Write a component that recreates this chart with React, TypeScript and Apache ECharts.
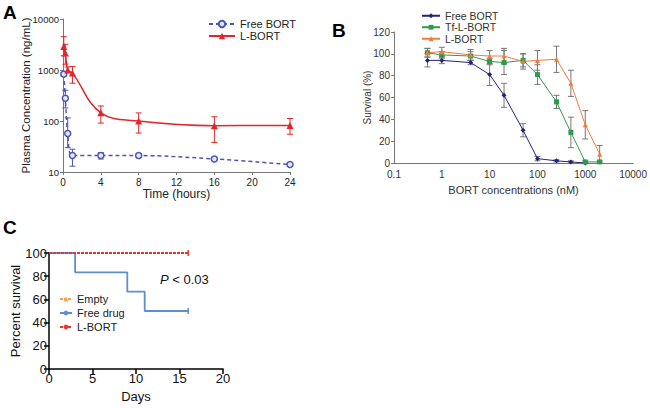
import React, { useEffect, useRef } from "react";
import * as echarts from "echarts";

// ---------- Panel A data ----------
const timesA = [0.083, 0.25, 0.5, 1, 4, 8, 16, 24];
const freeA = [830, 280, 57, 21, 21, 21, 18, 14];
const freeALo = [760, 180, 30, 13, 18, 19, 17, 13];
const freeAHi = [900, 400, 115, 28, 24, 23, 19.5, 15];
const lA = [2900, 2150, 1000, 870, 145, 100, 81, 82];
const lALo = [1900, 1300, 900, 550, 91, 58, 38, 55];
const lAHi = [4500, 3200, 1150, 1170, 197, 144, 121, 112];

// ---------- Panel B data ----------
const concB = [0.5, 1, 4, 10, 20, 50, 100, 250, 500, 1000, 2000];
const freeB = [94, 94, 92, 81, 62, 30, 4, 2, 1, 0];
const freeBErr = [6, 3, 2, 10, 11, 6, 2, 1, 1, 0];
const tfB = [101, 99, 98, 93, 92, 94, 81, 56, 28, 1, 1];
const tfBErr = [4, 3, 4, 3, 11, 6, 9, 6, 14, 1, 1];
const lB = [101, 102, 99, 98, 98, 93, 94, 95, 73, 35, 8];
const lBErr = [4, 4, 5, 5, 7, 7, 9, 12, 12, 13, 8];

// ---------- Panel C data ----------
const daysFree = [0, 3, 9, 11, 16];
const survFree = [100, 83.3, 66.7, 50, 50];
const daysL = [0, 16];
const survL = [100, 100];
const daysEmpty = [0, 16];
const survEmpty = [100, 100];

const FONT = "'Liberation Sans', Arial, sans-serif";

function pairs(xs: number[], ys: number[]) {
  return ys.map((y, i) => [xs[i], y]);
}

function errRender(color: string, cap: number) {
  return (params: any, api: any) => {
    const x = api.value(0);
    const lo = api.value(1);
    const hi = api.value(2);
    const p1 = api.coord([x, lo]);
    const p2 = api.coord([x, hi]);
    const st = { stroke: color, lineWidth: 1 };
    return {
      type: "group",
      children: [
        { type: "line", shape: { x1: p1[0], y1: p1[1], x2: p2[0], y2: p2[1] }, style: st },
        { type: "line", shape: { x1: p1[0] - cap, y1: p1[1], x2: p1[0] + cap, y2: p1[1] }, style: st },
        { type: "line", shape: { x1: p2[0] - cap, y1: p2[1], x2: p2[0] + cap, y2: p2[1] }, style: st },
      ],
    };
  };
}

const plain = (v: number) => String(v);

export default function App() {
  const ref = useRef<HTMLDivElement>(null);
  useEffect(() => {
    if (!ref.current) return;
    const chart = echarts.init(ref.current, null, { renderer: "svg" });

    const blueA = "#4b55b3";
    const redA = "#e2262b";
    const navyB = "#23237a";
    const greenB = "#2f9a4c";
    const orangeB = "#f07c3c";
    const blueC = "#5b8fcf";
    const redC = "#e8362f";
    const orangeC = "#f2a24a";

    const thinAxis = (color: string) => ({
      axisLine: { show: true, lineStyle: { color, width: 1 } },
      axisTick: { show: true, inside: false, length: 3, lineStyle: { color, width: 1 } },
      splitLine: { show: false },
    });

    const nameStyle = (size: number, color: string) => ({
      fontSize: size, color, fontFamily: FONT, fontWeight: "normal",
    });

    const option: any = {
      animation: false,
      textStyle: { fontFamily: FONT },
      grid: [
        { left: 63, top: 19, width: 227, height: 153 },
        { left: 394, top: 32, width: 243, height: 131 },
        { left: 49, top: 253, width: 174, height: 116 },
      ],
      xAxis: [
        {
          gridIndex: 0, type: "value", min: 0, max: 24, interval: 4,
          ...thinAxis("#777"),
          axisLabel: { fontSize: 10, color: "#222", margin: 5, fontFamily: FONT, formatter: plain },
          name: "Time (hours)", nameLocation: "middle", nameGap: 16, nameMoveOverlap: false,
          nameTextStyle: nameStyle(12, "#222"),
        },
        {
          gridIndex: 1, type: "log", logBase: 10, min: 0.1, max: 10000,
          axisLine: { show: true, lineStyle: { color: "#777", width: 1 } },
          axisTick: { show: false },
          splitLine: { show: false },
          minorTick: { show: false },
          axisLabel: { fontSize: 10, color: "#333", margin: 6, fontFamily: FONT, formatter: plain },
          name: "BORT concentrations (nM)", nameLocation: "middle", nameGap: 21, nameMoveOverlap: false,
          nameTextStyle: nameStyle(11, "#333"),
        },
        {
          gridIndex: 2, type: "value", min: 0, max: 20, interval: 5,
          axisLine: { show: true, lineStyle: { color: "#000", width: 1.5 } },
          axisTick: { show: true, length: 5, lineStyle: { color: "#000", width: 1.5 } },
          splitLine: { show: false },
          axisLabel: { fontSize: 13, color: "#111", margin: 3, fontFamily: FONT, formatter: plain },
          name: "Days", nameLocation: "middle", nameGap: 21, nameMoveOverlap: false,
          nameTextStyle: nameStyle(13, "#111"),
        },
      ],
      yAxis: [
        {
          gridIndex: 0, type: "log", logBase: 10, min: 10, max: 10000,
          ...thinAxis("#777"),
          minorTick: { show: false },
          axisLabel: { fontSize: 9.5, color: "#222", margin: 4, fontFamily: FONT, formatter: plain },
          name: "Plasma Concentration (ng/mL)", nameLocation: "middle", nameGap: 31, nameMoveOverlap: false,
          nameTextStyle: nameStyle(11.5, "#222"),
        },
        {
          gridIndex: 1, type: "value", min: 0, max: 120, interval: 20,
          ...thinAxis("#777"),
          axisLabel: { fontSize: 10, color: "#333", margin: 4, fontFamily: FONT, formatter: plain },
          name: "Survival (%)", nameLocation: "middle", nameGap: 22, nameMoveOverlap: false,
          nameTextStyle: nameStyle(10, "#333"),
        },
        {
          gridIndex: 2, type: "value", min: 0, max: 100, interval: 20,
          axisLine: { show: true, lineStyle: { color: "#000", width: 1.5 } },
          axisTick: { show: true, length: 5, lineStyle: { color: "#000", width: 1.5 } },
          splitLine: { show: false },
          axisLabel: { fontSize: 13, color: "#111", margin: 2, fontFamily: FONT, formatter: plain },
          name: "Percent survival", nameLocation: "middle", nameGap: 27, nameMoveOverlap: false,
          nameTextStyle: nameStyle(13, "#111"),
        },
      ],
      legend: [
        {
          data: ["A:Free BORT", "A:L-BORT"], left: 208, top: 18, orient: "vertical",
          itemWidth: 26, itemHeight: 8, itemGap: 0, padding: 0, selectedMode: false,
          formatter: (n: string) => n.split(":")[1],
          textStyle: { fontSize: 11, color: "#222", lineHeight: 12, fontFamily: FONT },
        },
        {
          data: ["B:Free BORT", "B:Tf-L-BORT", "B:L-BORT"], left: 421, top: 10, orient: "vertical",
          itemWidth: 18, itemHeight: 6, itemGap: 0, padding: 0, selectedMode: false,
          formatter: (n: string) => n.split(":")[1],
          textStyle: { fontSize: 10.5, color: "#333", lineHeight: 11.5, fontFamily: FONT },
        },
        {
          data: ["C:Empty", "C:Free drug", "C:L-BORT"], left: 59, top: 292, orient: "vertical",
          itemWidth: 12, itemHeight: 6, itemGap: 0, padding: 0, selectedMode: false,
          formatter: (n: string) => n.split(":")[1],
          textStyle: { fontSize: 11, color: "#222", lineHeight: 14, fontFamily: FONT },
        },
      ],
      graphic: [
        { type: "text", left: 3, top: 3, style: { text: "A", font: `bold 19px ${FONT}`, fill: "#000" } },
        { type: "text", left: 332, top: 21, style: { text: "B", font: `bold 19px ${FONT}`, fill: "#000" } },
        { type: "text", left: 3, top: 218, style: { text: "C", font: `bold 19px ${FONT}`, fill: "#000" } },
        {
          type: "text", left: 160, top: 273,
          style: {
            text: "{i|P} < 0.03", font: `13px ${FONT}`, fill: "#111",
            rich: { i: { fontStyle: "italic", fontSize: 13, fontFamily: FONT } },
          },
        },
      ],
      series: [
        // ---- A ----
        {
          type: "custom", xAxisIndex: 0, yAxisIndex: 0, silent: true, z: 1,
          renderItem: errRender(blueA, 3), encode: { x: 0, y: [1, 2] },
          data: timesA.map((t, i) => [t, freeALo[i], freeAHi[i]]),
        },
        {
          type: "custom", xAxisIndex: 0, yAxisIndex: 0, silent: true, z: 1,
          renderItem: errRender(redA, 3), encode: { x: 0, y: [1, 2] },
          data: timesA.map((t, i) => [t, lALo[i], lAHi[i]]),
        },
        {
          name: "A:Free BORT", type: "line", xAxisIndex: 0, yAxisIndex: 0, smooth: 0.35, z: 3,
          data: pairs(timesA, freeA),
          symbol: "circle", symbolSize: 6,
          itemStyle: { color: "#e4e6f7", borderColor: blueA, borderWidth: 1.5 },
          lineStyle: { color: blueA, width: 1.5, type: [4, 3] },
        },
        {
          name: "A:L-BORT", type: "line", xAxisIndex: 0, yAxisIndex: 0, smooth: 0.4, z: 3,
          data: pairs(timesA, lA),
          symbol: "triangle", symbolSize: 7,
          itemStyle: { color: redA },
          lineStyle: { color: redA, width: 1.5 },
        },
        // ---- B ----
        {
          type: "custom", xAxisIndex: 1, yAxisIndex: 1, silent: true, z: 1,
          renderItem: errRender("#777", 3), encode: { x: 0, y: [1, 2] },
          data: freeB.map((v, i) => [concB[i], v - freeBErr[i], v + freeBErr[i]]),
        },
        {
          type: "custom", xAxisIndex: 1, yAxisIndex: 1, silent: true, z: 1,
          renderItem: errRender("#777", 3), encode: { x: 0, y: [1, 2] },
          data: tfB.map((v, i) => [concB[i], v - tfBErr[i], v + tfBErr[i]]),
        },
        {
          type: "custom", xAxisIndex: 1, yAxisIndex: 1, silent: true, z: 1,
          renderItem: errRender("#777", 3), encode: { x: 0, y: [1, 2] },
          data: lB.map((v, i) => [concB[i], Math.max(0, v - lBErr[i]), v + lBErr[i]]),
        },
        {
          name: "B:Free BORT", type: "line", xAxisIndex: 1, yAxisIndex: 1, z: 3,
          data: pairs(concB, freeB),
          symbol: "diamond", symbolSize: 5,
          itemStyle: { color: navyB },
          lineStyle: { color: navyB, width: 1 },
        },
        {
          name: "B:Tf-L-BORT", type: "line", xAxisIndex: 1, yAxisIndex: 1, z: 3,
          data: pairs(concB, tfB),
          symbol: "rect", symbolSize: 5,
          itemStyle: { color: greenB },
          lineStyle: { color: greenB, width: 1 },
        },
        {
          name: "B:L-BORT", type: "line", xAxisIndex: 1, yAxisIndex: 1, z: 3,
          data: pairs(concB, lB),
          symbol: "triangle", symbolSize: 5,
          itemStyle: { color: orangeB },
          lineStyle: { color: orangeB, width: 1 },
        },
        // ---- C ----
        {
          name: "C:Empty", type: "line", xAxisIndex: 2, yAxisIndex: 2, z: 2,
          data: pairs(daysEmpty, survEmpty),
          symbol: "triangle", symbolSize: 4, showSymbol: false,
          itemStyle: { color: orangeC },
          lineStyle: { color: orangeC, width: 1.5, type: [3, 1] },
        },
        {
          name: "C:Free drug", type: "line", xAxisIndex: 2, yAxisIndex: 2, step: "end", z: 3,
          data: survFree.map((v, i) =>
            i === survFree.length - 1
              ? { value: [daysFree[i], v], symbol: "rect", symbolSize: [1.5, 6] }
              : { value: [daysFree[i], v], symbol: "none" }
          ),
          symbol: "none",
          itemStyle: { color: blueC },
          lineStyle: { color: blueC, width: 1.8 },
        },
        {
          name: "C:L-BORT", type: "line", xAxisIndex: 2, yAxisIndex: 2, z: 4,
          data: survL.map((v, i) =>
            i === survL.length - 1
              ? { value: [daysL[i], v], symbol: "rect", symbolSize: [1.5, 6] }
              : { value: [daysL[i], v], symbol: "none" }
          ),
          symbol: "none",
          itemStyle: { color: redC },
          lineStyle: { color: redC, width: 1.8, type: [3, 1] },
        },
      ],
    };
    chart.setOption(option);
    return () => chart.dispose();
  }, []);
  return (
    <div
      ref={ref}
      style={{ position: "fixed", left: 0, top: 0, width: 650, height: 408, background: "#fff" }}
    />
  );
}
